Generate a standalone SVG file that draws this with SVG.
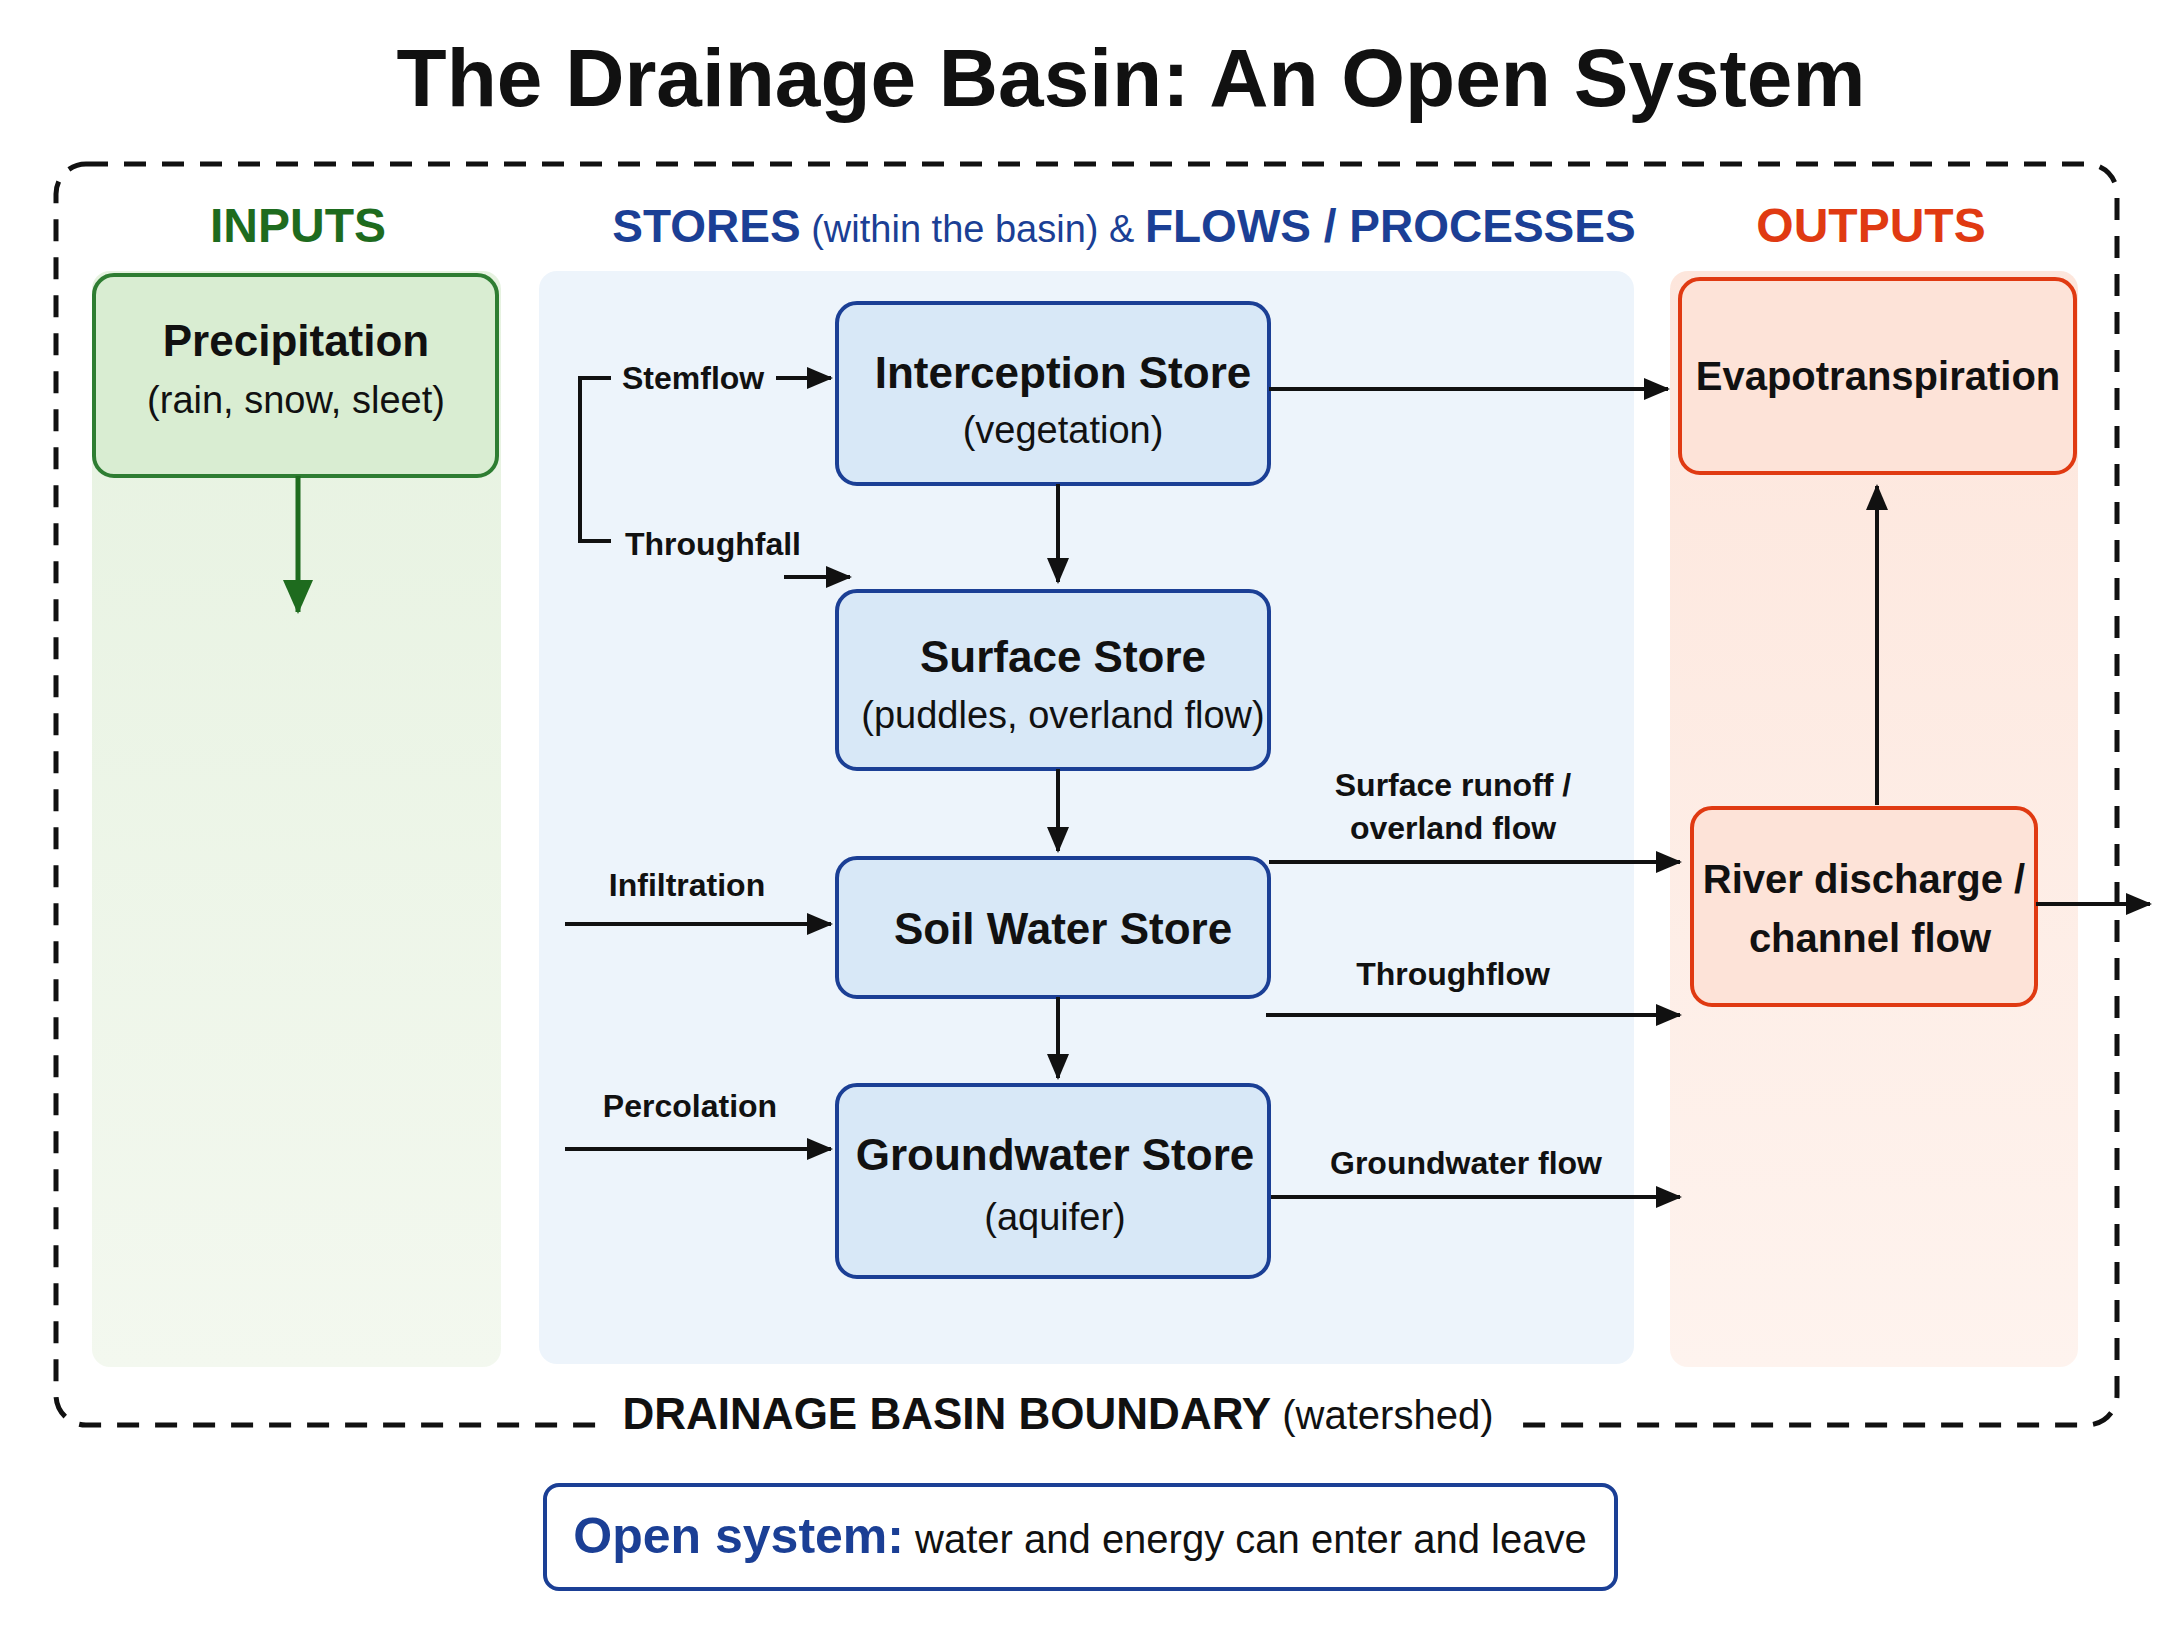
<svg xmlns="http://www.w3.org/2000/svg" width="2176" height="1632" viewBox="0 0 2176 1632">
<style>
text{font-family:"Liberation Sans","DejaVu Sans",sans-serif;fill:#111}
.b{font-weight:bold}
.box{fill:#d8e8f7;stroke:#1b3f95;stroke-width:4}
.ln{stroke:#111;stroke-width:4;fill:none}
.t1{font-size:44px;font-weight:bold;text-anchor:middle}
.t2{font-size:38px;text-anchor:middle}
.lb{font-size:32px;font-weight:bold}
</style>
<defs>
<marker id="a" viewBox="0 0 26 26" refX="24" refY="13" markerWidth="26" markerHeight="26" markerUnits="userSpaceOnUse" orient="auto"><path d="M0,2L26,13L0,24z" fill="#111"/></marker>
<marker id="ag" viewBox="0 0 34 34" refX="32" refY="17" markerWidth="34" markerHeight="34" markerUnits="userSpaceOnUse" orient="auto"><path d="M0,2L34,17L0,32z" fill="#1e6b1e"/></marker>
<linearGradient id="gg" x1="0" y1="0" x2="0" y2="1"><stop offset="0" stop-color="#e6f2e0"/><stop offset="1" stop-color="#f3f8ef"/></linearGradient>
<linearGradient id="go" x1="0" y1="0" x2="0" y2="1"><stop offset="0" stop-color="#fde6dc"/><stop offset="1" stop-color="#fef3ee"/></linearGradient>
</defs>
<rect width="2176" height="1632" fill="#fff"/>
<text x="1131" y="106" class="b" font-size="82" text-anchor="middle">The Drainage Basin: An Open System</text>
<rect x="56" y="164" width="2061" height="1261" rx="30" fill="none" stroke="#111" stroke-width="5" stroke-dasharray="22,16"/>
<g id="columns">
<rect x="92" y="271" width="409" height="1096" rx="18" fill="url(#gg)"/>
<rect x="539" y="271" width="1095" height="1093" rx="18" fill="#edf4fb"/>
<rect x="1670" y="271" width="408" height="1096" rx="18" fill="url(#go)"/>
<text x="298" y="242" class="b" font-size="48" text-anchor="middle" style="fill:#1e6b1e">INPUTS</text>
<text x="1124" y="242" font-size="46" text-anchor="middle" style="fill:#1b3f95"><tspan class="b">STORES</tspan><tspan font-size="38"> (within the basin) &amp; </tspan><tspan class="b">FLOWS / PROCESSES</tspan></text>
<text x="1871" y="242" class="b" font-size="48" text-anchor="middle" style="fill:#e03a12">OUTPUTS</text>
</g>
<g id="precip"><rect x="94" y="275" width="403" height="201" rx="20" fill="#d9edd2" stroke="#2e7d32" stroke-width="4"/>
<text x="296" y="356" class="t1">Precipitation</text><text x="296" y="413" class="t2">(rain, snow, sleet)</text></g>
<g id="interception"><rect class="box" x="837" y="303" width="432" height="181" rx="20"/>
<text x="1063" y="388" class="t1">Interception Store</text><text x="1063" y="443" class="t2">(vegetation)</text></g>
<g id="surface"><rect class="box" x="837" y="591" width="432" height="178" rx="20"/>
<text x="1063" y="672" class="t1">Surface Store</text><text x="1063" y="728" class="t2">(puddles, overland flow)</text></g>
<g id="soil"><rect class="box" x="837" y="858" width="432" height="139" rx="20"/>
<text x="1063" y="944" class="t1">Soil Water Store</text></g>
<g id="groundwater"><rect class="box" x="837" y="1085" width="432" height="192" rx="20"/>
<text x="1055" y="1170" class="t1">Groundwater Store</text><text x="1055" y="1230" class="t2">(aquifer)</text></g>
<g id="evap"><rect x="1680" y="279" width="395" height="194" rx="20" fill="#fde3d8" stroke="#e03a12" stroke-width="4"/>
<text x="1878" y="390" font-size="40" class="b" text-anchor="middle">Evapotranspiration</text></g>
<g id="river"><rect x="1692" y="808" width="344" height="197" rx="20" fill="#fde3d8" stroke="#e03a12" stroke-width="4"/>
<text x="1864" y="893" font-size="40" class="b" text-anchor="middle">River discharge /</text><text x="1870" y="952" font-size="40" class="b" text-anchor="middle">channel flow</text></g>
<g id="connectors">
<line class="ln" x1="298" y1="476" x2="298" y2="612" style="stroke:#1e6b1e;stroke-width:5" marker-end="url(#ag)"/>
<line class="ln" x1="1269" y1="389" x2="1668" y2="389" marker-end="url(#a)"/>
<line class="ln" x1="1877" y1="805" x2="1877" y2="486" marker-end="url(#a)"/>
<line class="ln" x1="2036" y1="904" x2="2150" y2="904" marker-end="url(#a)"/>
<line class="ln" x1="1058" y1="484" x2="1058" y2="582" marker-end="url(#a)"/>
<line class="ln" x1="1058" y1="769" x2="1058" y2="851" marker-end="url(#a)"/>
<line class="ln" x1="1058" y1="997" x2="1058" y2="1078" marker-end="url(#a)"/>
<line class="ln" x1="1269" y1="862" x2="1680" y2="862" marker-end="url(#a)"/>
<line class="ln" x1="1266" y1="1015" x2="1680" y2="1015" marker-end="url(#a)"/>
<line class="ln" x1="1271" y1="1197" x2="1680" y2="1197" marker-end="url(#a)"/>
<path class="ln" d="M611,378H580V541H611"/>
<line class="ln" x1="776" y1="378" x2="831" y2="378" marker-end="url(#a)"/>
<line class="ln" x1="784" y1="577" x2="850" y2="577" marker-end="url(#a)"/>
<line class="ln" x1="565" y1="924" x2="831" y2="924" marker-end="url(#a)"/>
<line class="ln" x1="565" y1="1149" x2="831" y2="1149" marker-end="url(#a)"/>
</g>
<g id="labels">
<text x="622" y="389" class="lb">Stemflow</text>
<text x="625" y="555" class="lb">Throughfall</text>
<text x="687" y="896" class="lb" text-anchor="middle">Infiltration</text>
<text x="690" y="1117" class="lb" text-anchor="middle">Percolation</text>
<text x="1453" y="796" class="lb" text-anchor="middle">Surface runoff /</text>
<text x="1453" y="839" class="lb" text-anchor="middle">overland flow</text>
<text x="1453" y="985" class="lb" text-anchor="middle">Throughflow</text>
<text x="1466" y="1174" class="lb" text-anchor="middle">Groundwater flow</text>
</g>
<rect x="600" y="1385" width="916" height="60" fill="#fff"/>
<text x="1058" y="1429" font-size="44" text-anchor="middle"><tspan class="b">DRAINAGE BASIN BOUNDARY</tspan><tspan font-size="40"> (watershed)</tspan></text>
<g id="note"><rect x="545" y="1485" width="1071" height="104" rx="14" fill="#fff" stroke="#1b3f95" stroke-width="4"/>
<text x="1080" y="1553" text-anchor="middle"><tspan class="b" font-size="50" style="fill:#1b3f95">Open system:</tspan><tspan font-size="40"> water and energy can enter and leave</tspan></text></g>
</svg>
